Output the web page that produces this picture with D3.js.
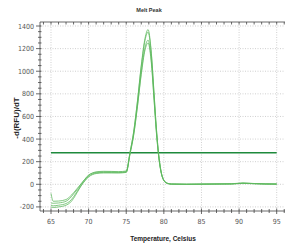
<html>
<head>
  <script src="https://d3js.org/d3.v7.min.js"></script>
  <style>
    body { margin: 0; background: #fff; }
    .tick-label { font-family: "Liberation Sans Narrow", "DejaVu Sans Condensed", sans-serif; font-size: 7px; fill: #555; }
    .grid { stroke: #bbb; stroke-width: 0.7; stroke-dasharray: 1,1.5; }
  </style>
</head>
<body>
  <svg id="chart" width="285" height="251"></svg>
  <script>
    // melt curve temperatures (Celsius)
    const temps = [65, 65.3, 66, 67, 67.5, 68, 68.5, 69, 69.5, 70, 70.5, 71, 72, 73, 74, 75,
      75.5, 76, 76.5, 77, 77.5, 77.9, 78.3, 78.7, 79, 79.3, 79.6, 80, 80.5, 81,
      83, 86, 89, 90.5, 92, 93.5, 95];

    const wellA = [-80, -150, -148, -135, -110, -75, -35, 5, 45, 80, 98, 106, 110, 110, 108, 112,
      279, 467, 743, 1054, 1292, 1368, 1193, 804, 503, 272, 126, 36, 8, 2,
      0, 2, 4, 10, 6, 3, 2];
    const wellB = [-165, -168, -165, -150, -125, -85, -45, 0, 45, 82, 100, 110, 115, 114, 112, 118,
      282, 470, 735, 1040, 1275, 1345, 1178, 795, 498, 270, 125, 36, 8, 2,
      1, 3, 5, 12, 7, 4, 3];
    const wellC = [-185, -190, -185, -170, -150, -110, -60, -10, 35, 70, 90, 100, 105, 104, 103, 108,
      270, 445, 700, 990, 1212, 1275, 1120, 756, 473, 256, 118, 34, 8, 2,
      0, 1, 3, 8, 5, 2, 1];
    const wellD = [-200, -205, -200, -185, -165, -125, -70, -15, 30, 65, 85, 95, 100, 100, 100, 105,
      265, 438, 690, 972, 1188, 1250, 1098, 741, 464, 251, 116, 33, 8, 2,
      0, 2, 3, 9, 6, 3, 2];
    const wells = [wellA, wellB, wellC, wellD];

    const threshold = 278;
    const xTicks = [65, 70, 75, 80, 85, 90, 95];
    const yTicks = [-200, 0, 200, 400, 600, 800, 1000, 1200, 1400];

    const svg = d3.select("svg#chart");
    const plotLeft = 40, plotRight = 285, plotTop = 22, plotBottom = 211;

    const x = d3.scaleLinear().domain([65, 95]).range([51, 276.7]);
    const y = d3.scaleLinear().domain([0, 1400]).range([184.3, 26]);

    // grid
    svg.selectAll(".hgrid").data(yTicks).join("line")
      .attr("class", "grid")
      .attr("x1", plotLeft).attr("x2", plotRight)
      .attr("y1", d => y(d)).attr("y2", d => y(d));
    svg.selectAll(".vgrid").data(xTicks).join("line")
      .attr("class", "grid")
      .attr("x1", d => x(d)).attr("x2", d => x(d))
      .attr("y1", plotTop).attr("y2", plotBottom);

    // threshold line
    svg.append("line")
      .attr("x1", x(65)).attr("x2", x(95))
      .attr("y1", y(threshold)).attr("y2", y(threshold))
      .attr("stroke", "#1e8a3c").attr("stroke-width", 1.5);

    // melt peak curves
    const line = d3.line()
      .x((d, i) => x(temps[i]))
      .y(d => y(d))
      .curve(d3.curveMonotoneX);

    svg.selectAll(".well").data(wells).join("path")
      .attr("class", "well")
      .attr("d", line)
      .attr("fill", "none")
      .attr("stroke", "#5cb85c")
      .attr("stroke-opacity", 0.85)
      .attr("stroke-width", 0.9);

    // axes
    const minorX = d3.range(64, 97, 1);
    const minorY = d3.range(-200, 1450, 50);

    const ax = svg.append("g").attr("stroke", "#444").attr("stroke-width", 0.8);
    ax.append("line").attr("x1", plotLeft).attr("x2", plotRight).attr("y1", plotTop).attr("y2", plotTop);
    ax.append("line").attr("x1", plotLeft).attr("x2", plotRight).attr("y1", plotBottom).attr("y2", plotBottom);
    ax.append("line").attr("x1", plotLeft).attr("x2", plotLeft).attr("y1", plotTop).attr("y2", plotBottom);

    ax.selectAll(".xt").data(minorX).join("line")
      .attr("x1", d => x(d)).attr("x2", d => x(d))
      .attr("y1", d => plotBottom - (d % 5 === 0 ? 2.5 : 2)).attr("y2", d => plotBottom + (d % 5 === 0 ? 3 : 2));
    ax.selectAll(".tt").data(minorX).join("line")
      .attr("x1", d => x(d)).attr("x2", d => x(d))
      .attr("y1", plotTop).attr("y2", plotTop + 2.5);
    ax.selectAll(".yt").data(minorY).join("line")
      .attr("x1", d => plotLeft - (d % 200 === 0 ? 4 : 2)).attr("x2", plotLeft + 1.5)
      .attr("y1", d => y(d)).attr("y2", d => y(d));

    svg.selectAll(".xl").data(xTicks).join("text")
      .attr("class", "tick-label")
      .attr("x", d => x(d)).attr("y", 224)
      .attr("text-anchor", "middle")
      .text(d => d);
    svg.selectAll(".yl").data(yTicks).join("text")
      .attr("class", "tick-label")
      .attr("x", 34).attr("y", d => y(d) + 2.5)
      .attr("text-anchor", "end")
      .text(d => d);

    // titles
    svg.append("text")
      .attr("x", 149).attr("y", 12)
      .attr("text-anchor", "middle")
      .style("font-family", "'Liberation Sans Narrow', sans-serif")
      .style("font-size", "5.5px").style("font-weight", "bold").style("fill", "#333")
      .text("Melt Peak");
    svg.append("text")
      .attr("x", 163).attr("y", 241)
      .attr("text-anchor", "middle")
      .style("font-family", "'Liberation Sans Narrow', sans-serif")
      .style("font-size", "6.5px").style("font-weight", "bold").style("fill", "#222")
      .text("Temperature, Celsius");
    svg.append("text")
      .attr("transform", "translate(19,118) rotate(-90)")
      .attr("text-anchor", "middle")
      .style("font-family", "'Liberation Sans', sans-serif")
      .style("font-size", "8px").style("font-weight", "bold").style("fill", "#222")
      .text("-d(RFU)/dT");
  </script>
</body>
</html>
